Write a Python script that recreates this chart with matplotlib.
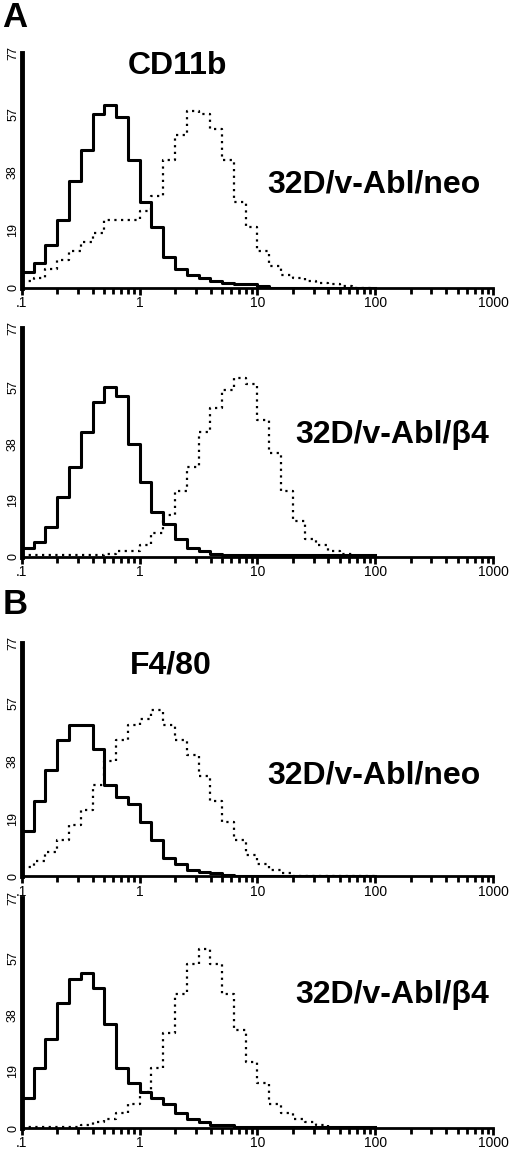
import numpy as np
import matplotlib.pyplot as plt

# left bin edges as log10 of fluorescence, -1.0 .. 2.0 step 0.1
log_bins = np.round(np.arange(-1.0, 2.05, 0.1), 2)

cd11b_neo_ctrl = [5, 8, 14, 22, 35, 45, 57, 60, 56, 42, 28, 20, 10, 6, 4, 3, 2, 1.5, 1, 1, 0.5,
                  0, 0, 0, 0, 0, 0, 0, 0, 0, 0]
cd11b_neo_stain = [2, 3, 6, 9, 12, 15, 18, 22, 22, 22, 25, 30, 42, 50, 58, 57, 52, 42, 28, 20, 12,
                   7, 4, 3, 2, 1.5, 1, 0.5, 0, 0, 0]
cd11b_b4_ctrl = [3, 5, 10, 20, 30, 42, 52, 57, 54, 38, 25, 15, 11, 6, 3, 2, 1, 0.5, 0.5, 0.5, 0.5,
                 0.5, 0.5, 0.5, 0.5, 0.5, 0.5, 0.5, 0.5, 0.5, 0.5]
cd11b_b4_stain = [0.5, 0.5, 0.5, 0.5, 0.5, 0.5, 0.5, 1, 2, 2, 4, 8, 14, 22, 30, 42, 50, 56, 60, 58, 46,
                  35, 22, 12, 6, 4, 2, 1, 0, 0, 0]
f480_neo_ctrl = [15, 25, 35, 45, 50, 50, 42, 30, 26, 24, 18, 12, 6, 4, 2, 1.5, 1, 0.5, 0, 0, 0,
                 0, 0, 0, 0, 0, 0, 0, 0, 0, 0]
f480_neo_stain = [3, 5, 8, 12, 17, 22, 30, 38, 45, 50, 52, 55, 50, 45, 40, 33, 25, 18, 12, 7, 4,
                  2, 1, 0, 0, 0, 0, 0, 0, 0, 0]
f480_b4_ctrl = [10, 20, 30, 42, 50, 52, 47, 35, 20, 15, 12, 10, 8, 5, 3, 2, 1, 1, 0.5, 0.5, 0.5,
                0.5, 0.5, 0.5, 0.5, 0.5, 0.5, 0.5, 0.5, 0.5, 0.5]
f480_b4_stain = [0.5, 0.5, 0.5, 0.5, 0.5, 1, 2, 3, 5, 8, 12, 20, 32, 45, 55, 60, 55, 45, 33, 22, 15,
                 8, 5, 3, 2, 1, 0, 0, 0, 0, 0]

y_ticks = [0, 19, 38, 57, 77]
x_ticks = [0.1, 1, 10, 100, 1000]
x_ticklabels = [".1", "1", "10", "100", "1000"]

panels = [
    (0.750, 0.204, cd11b_neo_ctrl, cd11b_neo_stain, "32D/v-Abl/neo", (0.52, 0.44)),
    (0.516, 0.199, cd11b_b4_ctrl, cd11b_b4_stain, "32D/v-Abl/β4", (0.58, 0.53)),
    (0.238, 0.203, f480_neo_ctrl, f480_neo_stain, "32D/v-Abl/neo", (0.52, 0.43)),
    (0.019, 0.200, f480_b4_ctrl, f480_b4_stain, "32D/v-Abl/β4", (0.58, 0.58)),
]
FONT = "Liberation Sans"

fig = plt.figure(figsize=(5.2, 11.5), dpi=100)
x = 10.0 ** log_bins
for bottom, height, ctrl, stain, label, pos in panels:
    ax = fig.add_axes([0.042, bottom, 0.906, height])
    ax.step(x, ctrl, where="post", color="black", lw=2.2)
    ax.step(x, stain, where="post", color="black", lw=1.6, linestyle=(0, (1, 2)))
    ax.set_xscale("log")
    ax.set_xlim(0.1, 1000)
    ax.set_ylim(0, 77)
    ax.set_xticks(x_ticks)
    ax.set_xticklabels(x_ticklabels, fontsize=10, family=FONT)
    ax.set_yticks(y_ticks)
    ax.set_yticklabels([str(v) for v in y_ticks], fontsize=9, rotation=90, va="center",
                       family=FONT)
    ax.tick_params(axis="x", which="both", direction="out", length=5, width=2, pad=1)
    ax.tick_params(axis="x", which="minor", length=4, width=2)
    ax.tick_params(axis="y", length=0, pad=2)
    ax.spines[["top", "right"]].set_visible(False)
    ax.spines["left"].set_linewidth(3.5)
    ax.spines["bottom"].set_linewidth(2)
    ax.text(pos[0], pos[1], label, transform=ax.transAxes, fontsize=23, fontweight="bold",
            va="center", family=FONT)

fig.text(0.005, 0.985, "A", fontsize=25, fontweight="bold", va="center", family=FONT)
fig.text(0.005, 0.474, "B", fontsize=25, fontweight="bold", va="center", family=FONT)
fig.text(0.245, 0.943, "CD11b", fontsize=23, fontweight="bold", va="center", family=FONT)
fig.text(0.250, 0.421, "F4/80", fontsize=23, fontweight="bold", va="center", family=FONT)

fig.savefig("out.png", dpi=100, facecolor="white")
